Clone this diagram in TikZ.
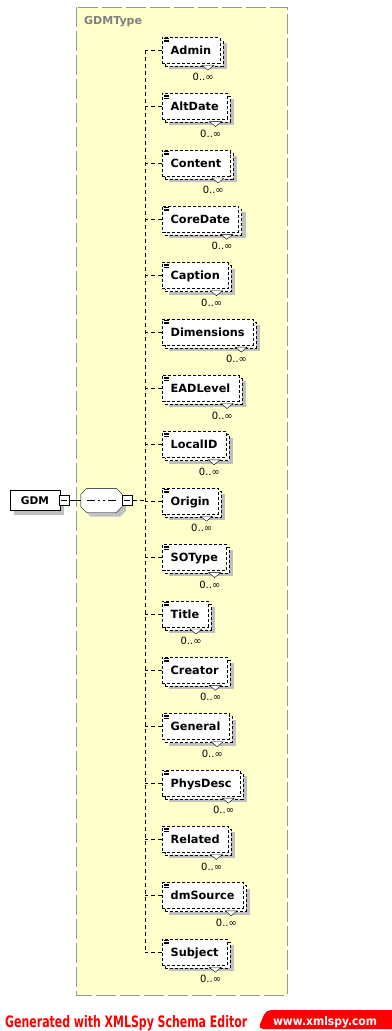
\documentclass[tikz,border=0pt]{standalone}
\usepackage{fontspec}
\setmainfont{DejaVu Sans}
\usetikzlibrary{positioning}

\definecolor{typefill}{RGB}{255,255,204}
\definecolor{typeline}{RGB}{150,150,150}
\definecolor{typetext}{RGB}{128,128,128}
\definecolor{xmlred}{RGB}{255,0,0}

\begin{document}
\begin{tikzpicture}[
    x=1pt, y=-1pt,
    group/.style={draw=typeline, fill=typefill, dash pattern=on 20pt off 4pt},
    typename/.style={anchor=west, inner sep=0pt, text=typetext, font=\fontsize{11}{13}\selectfont\bfseries},
    shade/.style={preaction={fill=black!25, transform canvas={xshift=#1, yshift=-#1}}},
    root/.style={draw, fill=white, minimum width=50pt, minimum height=20pt, inner sep=0pt,
        font=\fontsize{10.6}{12}\selectfont\bfseries, shade=4pt},
    minus/.style={draw, fill=white, minimum width=10pt, minimum height=10pt, inner sep=0pt,
        path picture={\draw ([xshift=2pt]path picture bounding box.west) -- ([xshift=-2pt]path picture bounding box.east);}},
    seqbox/.style={minimum width=41pt, minimum height=24pt, inner sep=0pt},
    seqline/.style={draw, fill=white, shade=4pt,
        path picture={
            \draw ([xshift=6pt]path picture bounding box.west) -- ([xshift=-6pt]path picture bounding box.east);
            \fill ([xshift=-6.5pt,yshift=1.5pt]path picture bounding box.center) rectangle ++(3pt,-3pt);
            \fill ([xshift=-1.5pt,yshift=1.5pt]path picture bounding box.center) rectangle ++(3pt,-3pt);
            \fill ([xshift=3.5pt,yshift=1.5pt]path picture bounding box.center) rectangle ++(3pt,-3pt);}},
    elem/.style={draw, fill=white, dash pattern=on 3pt off 2pt, anchor=west,
        minimum height=26pt, inner xsep=8.5pt, text height=8.5pt, text depth=0pt,
        font=\fontsize{11.3}{13}\selectfont\bfseries,
        preaction={fill=black!25, transform canvas={xshift=7pt, yshift=-6pt}},
        preaction={draw, fill=white, transform canvas={xshift=3pt, yshift=-3pt}},
        path picture={\foreach \d in {1.5pt,3pt,4.5pt}
            \draw[solid] ([xshift=2pt,yshift=-\d]path picture bounding box.north west) -- ++(5pt,0pt);},
        label={[occ]south east:0..∞}},
    occ/.style={anchor=north east, xshift=-6pt, yshift=-10pt, inner sep=0pt,
        font=\fontsize{10}{12}\selectfont},
    link/.style={dash pattern=on 4pt off 3pt},
    notch/.style={draw, fill=white}
]
\useasboundingbox (0,0) rectangle (391,1031);

% Type box
\draw[group] (76,7) rectangle (287,995);
\node[typename] (typename) at (84,22) {GDMType};

% Root and sequence
\node[root] (gdm) at (35,500.5) {GDM};
\node[minus, right=-1pt of gdm] (gdmm) {};
\node[seqbox] (seq) at (101.5,500.5) {};
\draw[seqline] ([xshift=6pt]seq.north west) -- ([xshift=-6pt]seq.north east)
    -- ([yshift=-6pt]seq.north east) -- ([yshift=6pt]seq.south east)
    -- ([xshift=-6pt]seq.south east) -- ([xshift=6pt]seq.south west)
    -- ([yshift=6pt]seq.south west) -- ([yshift=-6pt]seq.north west) -- cycle;
\node[minus, right=0pt of seq] (seqm) {};
\coordinate (spine) at (145,50);

% Elements
\node[elem] (admin) at (162,50) {Admin};
\node[elem] (altdate) at (162,106.4) {AltDate};
\node[elem] (content) at (162,162.8) {Content};
\node[elem] (coredate) at (162,219.1) {CoreDate};
\node[elem] (caption) at (162,275.5) {Caption};
\node[elem] (dimensions) at (162,331.9) {Dimensions};
\node[elem] (eadlevel) at (162,388.3) {EADLevel};
\node[elem] (localid) at (162,444.6) {LocalID};
\node[elem] (origin) at (162,501) {Origin};
\node[elem] (sotype) at (162,557.4) {SOType};
\node[elem] (title) at (162,613.8) {Title};
\node[elem] (creator) at (162,670.1) {Creator};
\node[elem] (general) at (162,726.5) {General};
\node[elem] (physdesc) at (162,782.9) {PhysDesc};
\node[elem] (related) at (162,839.3) {Related};
\node[elem] (dmsource) at (162,895.6) {dmSource};
\node[elem] (subject) at (162,952) {Subject};

% Connectors
\draw (gdmm) -- (seq);
\draw[link] (seqm.east) -- (seqm.east -| spine);
\draw[link] (spine) -- (spine |- subject.west);
\foreach \n in {admin,altdate,content,coredate,caption,dimensions,eadlevel,localid,
    origin,sotype,title,creator,general,physdesc,related,dmsource,subject}{
  \draw[link] (\n.west) -- (\n.west -| spine);
  \draw[notch] ([xshift=-18pt,yshift=-2pt]\n.south east) -- ++(12pt,0pt) -- ++(-6pt,-5pt) -- cycle;
}

% Footer
\node[anchor=base west, inner sep=0pt, text=xmlred] (gen) at (5,1027)
    {\resizebox{242pt}{12pt}{\bfseries Generated with XMLSpy Schema Editor}};
\fill[xmlred, rounded corners=5pt] (400,1010) -- (266,1010) -- (258,1029) -- (400,1029) -- cycle;
\node[anchor=base, inner sep=0pt, text=white] (site) at (325,1025.5)
    {\resizebox{104pt}{9pt}{\bfseries www.xmlspy.com}};

\end{tikzpicture}
\end{document}
